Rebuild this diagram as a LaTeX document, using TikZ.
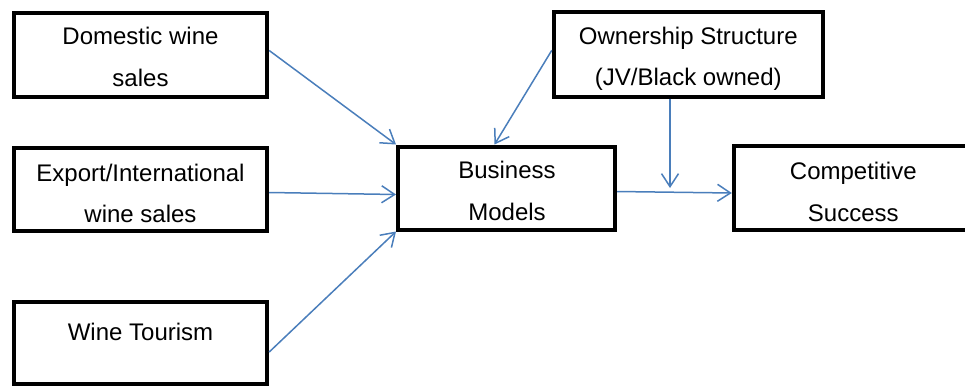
\documentclass[tikz,border=0pt]{standalone}
\usepackage{fontspec}
\setmainfont{Liberation Sans}
\usetikzlibrary{arrows.meta}
\definecolor{linkblue}{RGB}{74,126,187}
\begin{document}
\begin{tikzpicture}[x=1pt,y=-1pt,
  box/.style={draw=black,line width=4pt,rectangle,inner sep=0pt},
  lbl/.style={anchor=base,inner sep=0pt,font=\fontsize{24}{28}\selectfont},
  link/.style={draw=linkblue,line width=1.5pt,-{Straight Barb[length=13pt,width=17pt]}},
]
\useasboundingbox (0,0) rectangle (965,386);
\clip (0,0) rectangle (965,386);

% boxes
\node[box,minimum width=253pt,minimum height=84pt] (dom) at (140.7,54.5) {};
\node[box,minimum width=253pt,minimum height=83pt] (exp) at (140.7,189.5) {};
\node[box,minimum width=253pt,minimum height=82pt] (wt)  at (140.7,343) {};
\node[box,minimum width=217pt,minimum height=83pt] (bm)  at (506.5,188) {};
\node[box,minimum width=269pt,minimum height=84.5pt] (own) at (688.3,54.3) {};
\node[box,minimum width=239pt,minimum height=83.5pt] (cs)  at (853.3,188) {};

% labels
\node[lbl] (dom-a) at (140.5,44) {Domestic wine};
\node[lbl] (dom-b) at (140.5,86) {sales};
\node[lbl] (exp-a) at (140.5,181) {Export/International};
\node[lbl] (exp-b) at (140.5,222) {wine sales};
\node[lbl] (wt-a)  at (140.5,340) {Wine Tourism};
\node[lbl] (bm-a)  at (507,178) {Business};
\node[lbl] (bm-b)  at (507,220) {Models};
\node[lbl] (own-a) at (688.3,44) {Ownership Structure};
\node[lbl] (own-b) at (688.3,85) {(JV/Black owned)};
\node[lbl] (cs-a)  at (853.3,179) {Competitive};
\node[lbl] (cs-b)  at (853.3,221) {Success};

% moderating point on the business-models link
\coordinate (jn) at (670,188);

% connectors
\draw[link] ([yshift=4pt]dom.east) -- (bm.north west);
\draw[link] ([yshift=-3pt]exp.east) -- ([yshift=-6.5pt]bm.west);
\draw[link] ([yshift=-9pt]wt.east) -- (bm.south west);
\draw[link] ([yshift=4pt]own.west) -- ([xshift=-12pt]bm.north);
\draw[link] (own.south -| jn) -- (jn);
\draw[link] ([yshift=-3.5pt]bm.east) -- ([yshift=-5pt]cs.west);
\end{tikzpicture}
\end{document}
